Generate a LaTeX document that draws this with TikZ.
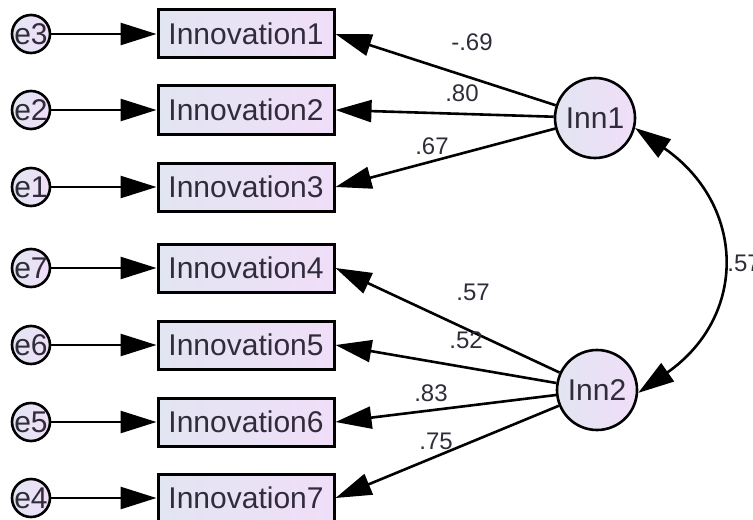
\documentclass[tikz,border=0pt]{standalone}
\usepackage{fontspec}
\setmainfont{Liberation Sans}
\usetikzlibrary{arrows.meta}

\begin{document}
\begin{tikzpicture}[x=0.5pt,y=-0.5pt,
  obs/.style={draw=black,line width=1.5pt,left color=sblue,right color=spink,
    minimum width=88pt,minimum height=24pt,inner sep=0pt,
    font=\fontsize{15}{18}\selectfont,text=sdark},
  err/.style={circle,draw=black,line width=1.3pt,left color=sblue,right color=spink,
    minimum size=19pt,inner sep=-1.5pt,font=\fontsize{15}{18}\selectfont,text=sdark},
  lat/.style={circle,draw=black,line width=1.3pt,left color=sblue,right color=spink,
    minimum size=40pt,inner sep=0pt,font=\fontsize{15}{18}\selectfont,text=sdark},
  load/.style={-{Triangle[length=18pt,width=11pt]},line width=1.3pt},
  corr/.style={{Triangle[length=18pt,width=11pt]}-{Triangle[length=18pt,width=11pt]},line width=1.3pt},
  coef/.style={font=\fontsize{12}{14}\selectfont,text=sdark,inner sep=0pt}]
  \definecolor{sblue}{RGB}{226,229,242}
  \definecolor{spink}{RGB}{240,222,248}
  \definecolor{sdark}{RGB}{48,44,58}
  \useasboundingbox (0,0) rectangle (753,519);
  % observed items
  \node[obs] (box1) at (246,34) {Innovation1};
  \node[obs] (box2) at (246,110) {Innovation2};
  \node[obs] (box3) at (246,187) {Innovation3};
  \node[obs] (box4) at (246,268) {Innovation4};
  \node[obs] (box5) at (246,345) {Innovation5};
  \node[obs] (box6) at (246,422) {Innovation6};
  \node[obs] (box7) at (246,498) {Innovation7};
  % error terms
  \node[err] (e3) at (31,34) {e3};
  \node[err] (e2) at (31,110) {e2};
  \node[err] (e1) at (31,187) {e1};
  \node[err] (e7) at (31,268) {e7};
  \node[err] (e6) at (31,345) {e6};
  \node[err] (e5) at (31,422) {e5};
  \node[err] (e4) at (31,498) {e4};
  \draw[load] (e3) -- (box1);
  \draw[load] (e2) -- (box2);
  \draw[load] (e1) -- (box3);
  \draw[load] (e7) -- (box4);
  \draw[load] (e6) -- (box5);
  \draw[load] (e5) -- (box6);
  \draw[load] (e4) -- (box7);
  % factors
  \node[lat] (inn1) at (595,118) {Inn1};
  \node[lat] (inn2) at (597,390) {Inn2};
  \draw[load] (inn1) -- (box1.east);
  \draw[load] (inn1) -- (box2.east);
  \draw[load] (inn1) -- (box3.east);
  \draw[load] (inn2) -- (box4.east);
  \draw[load] (inn2) -- (box5.east);
  \draw[load] (inn2) -- (box6.east);
  \draw[load] (inn2) -- (box7.east);
  \draw[corr] (inn1.-14) .. controls (746,205) and (748,316) .. (inn2.-4);
  % estimates
  \node[coef] (c1) at (472,42) {-.69};
  \node[coef] (c2) at (462,93) {.80};
  \node[coef] (c3) at (432,146) {.67};
  \node[coef] (c4) at (473,292) {.57};
  \node[coef] (c5) at (466,340) {.52};
  \node[coef] (c6) at (431,393) {.83};
  \node[coef] (c7) at (436,441) {.75};
  \node[coef,anchor=west] (c8) at (727,263) {.57};
\end{tikzpicture}
\end{document}
